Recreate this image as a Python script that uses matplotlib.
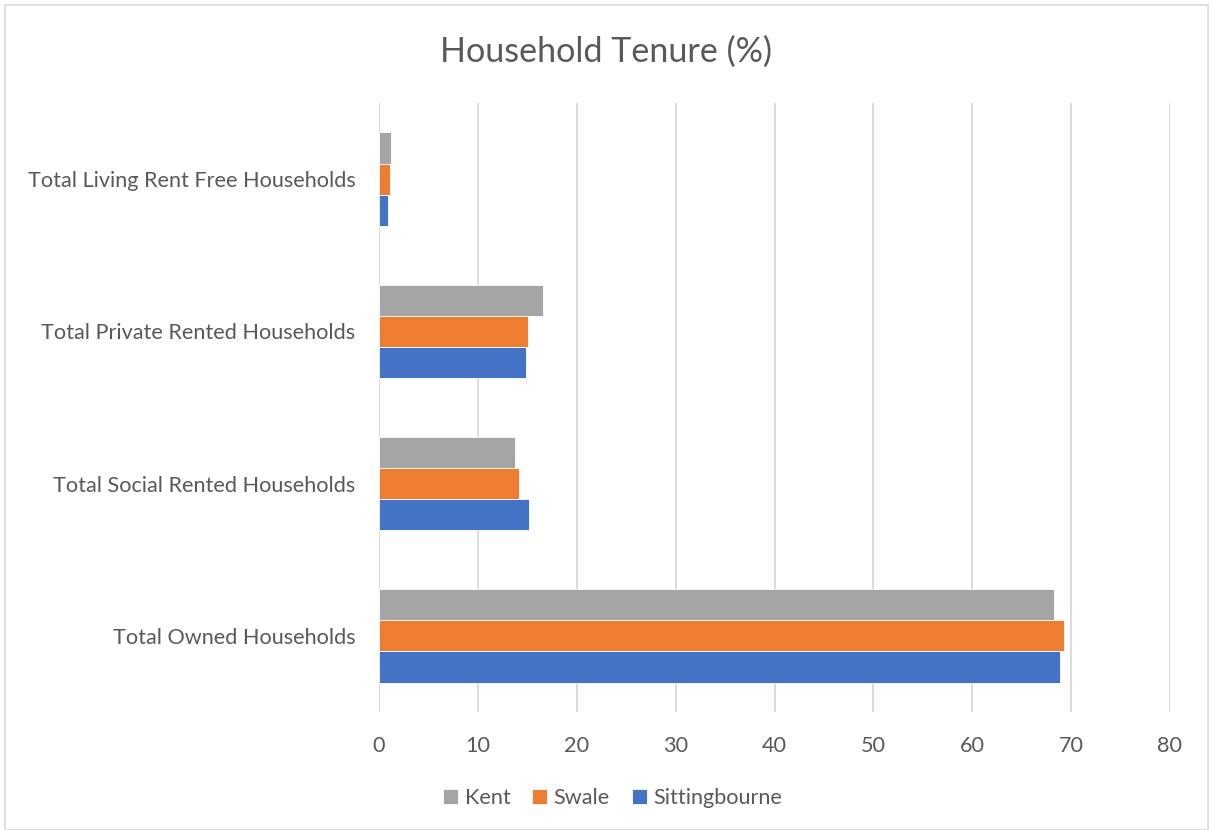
import numpy as np
import matplotlib
matplotlib.use("Agg")
import matplotlib.pyplot as plt

plt.rcParams['font.family'] = ['Lato', 'DejaVu Sans']

categories = ["Total Owned Households", "Total Social Rented Households",
              "Total Private Rented Households", "Total Living Rent Free Households"]
series = ["Kent", "Swale", "Sittingbourne"]
kent = [68.25, 13.7, 16.6, 1.2]
swale = [69.3, 14.2, 15.1, 1.15]
sittingbourne = [68.9, 15.15, 14.85, 0.9]
colors = ["#a5a5a5", "#ed7d31", "#4472c4"]
xticks = [0, 10, 20, 30, 40, 50, 60, 70, 80]

text_col = "#595959"

fig = plt.figure(figsize=(12.13, 8.30), dpi=100)
ax = fig.add_axes([0.3125, 0.1422, 0.652, 0.7337])

y = np.arange(len(categories))
h = 0.205
# Kent on top, Sittingbourne at the bottom of each group
ax.barh(y + h, kent, height=h, color=colors[0], edgecolor="white", linewidth=0.6, label=series[0], zorder=3)
ax.barh(y, swale, height=h, color=colors[1], edgecolor="white", linewidth=0.6, label=series[1], zorder=3)
ax.barh(y - h, sittingbourne, height=h, color=colors[2], edgecolor="white", linewidth=0.6, label=series[2], zorder=3)

ax.set_xlim(0, 80)
ax.set_ylim(-0.5, 3.5)
ax.set_xticks(xticks)
ax.set_yticks(y)
ax.set_yticklabels(categories)
ax.tick_params(axis="both", length=0, labelsize=15.6, colors=text_col)
ax.tick_params(axis="x", pad=17)
ax.tick_params(axis="y", pad=17)
ax.xaxis.grid(True, color="#d9d9d9", linewidth=1.3, zorder=0)
for s in ax.spines.values():
    s.set_visible(False)
ax.axvline(0, color="#d9d9d9", linewidth=1.6, zorder=1)

fig.suptitle("Household Tenure (%)", y=0.938, va="center", fontsize=24.6, color=text_col)

handles, labels = ax.get_legend_handles_labels()
fig.legend(handles, labels, loc="center", bbox_to_anchor=(0.505, 0.038), ncol=3,
           frameon=False, fontsize=15.6, labelcolor=text_col, handlelength=0.7,
           handleheight=0.7, handletextpad=0.3, columnspacing=1.0)

# light outer chart border
fig.patches.append(plt.Rectangle((0.004, 0.0), 0.992, 0.994, transform=fig.transFigure,
                                 fill=False, edgecolor="#d9d9d9", linewidth=1.2))

fig.savefig("out.png", dpi=100)
